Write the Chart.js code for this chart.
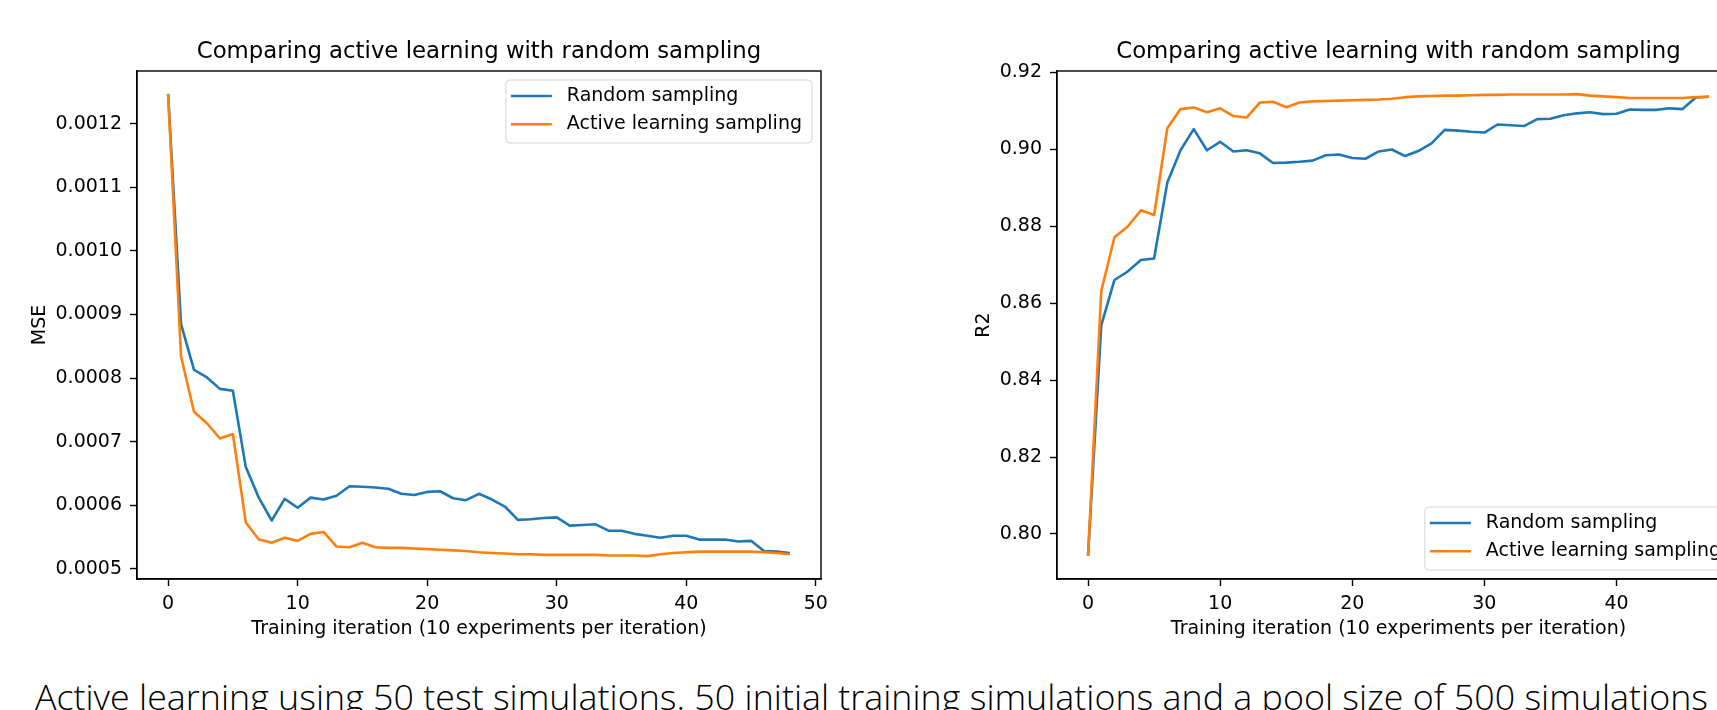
<!DOCTYPE html>
<html>
<head>
<meta charset="utf-8">
<script src="https://cdn.jsdelivr.net/npm/chart.js@4.4.1/dist/chart.umd.min.js"></script>
<style>
  html, body { margin: 0; padding: 0; background: #fff; }
  body { position: relative; width: 1717px; height: 710px; overflow: hidden; }
  canvas { position: absolute; top: 0; }
  #mseChart { left: 0; }
  #r2Chart { left: 920px; }
  #caption {
    position: absolute; left: 35px; top: 679px;
    font-family: "Open Sans", sans-serif; font-weight: 300;
    font-size: 35px; line-height: 35px; white-space: nowrap; color: #000;
    transform-origin: 0 0;
  }
</style>
</head>
<body>
<canvas id="mseChart" width="860" height="660"></canvas>
<canvas id="r2Chart" width="840" height="660"></canvas>
<span id="caption">Active learning using 50 test simulations. 50 initial training simulations and a pool size of 500 simulations</span>
<script>
// iteraciones de entrenamiento (10 experimentos por iteración)
const iterMse = [0, 1, 2, 3, 4, 5, 6, 7, 8, 9, 10, 11, 12, 13, 14, 15, 16, 17, 18, 19, 20, 21, 22, 23, 24,
  25, 26, 27, 28, 29, 30, 31, 32, 33, 34, 35, 36, 37, 38, 39, 40, 41, 42, 43, 44, 45, 46, 47, 48];
const iterR2 = [0, 1, 2, 3, 4, 5, 6, 7, 8, 9, 10, 11, 12, 13, 14, 15, 16, 17, 18, 19, 20, 21, 22, 23,
  24, 25, 26, 27, 28, 29, 30, 31, 32, 33, 34, 35, 36, 37, 38, 39, 40, 41, 42, 43, 44, 45, 46, 47];

const mseRandom = [0.001247, 0.000885, 0.000813, 0.000801, 0.000783, 0.000780, 0.000660, 0.000612, 0.000576, 0.000610,
  0.000596, 0.000612, 0.000609, 0.000615, 0.000630, 0.000629, 0.000628, 0.000626, 0.000618, 0.000616,
  0.000621, 0.000622, 0.000611, 0.000608, 0.000618, 0.000609, 0.000598, 0.000577, 0.000578, 0.000580,
  0.000581, 0.000568, 0.000569, 0.000570, 0.000560, 0.000560, 0.000555, 0.000552, 0.000549, 0.000552,
  0.000552, 0.000546, 0.000546, 0.000546, 0.000543, 0.000544, 0.000528, 0.000527, 0.000525];
const mseActive = [0.001247, 0.000834, 0.000747, 0.000729, 0.000705, 0.000712, 0.000573, 0.000546, 0.000541, 0.000549,
  0.000544, 0.000555, 0.000558, 0.000535, 0.000534, 0.000541, 0.000534, 0.000533, 0.000533, 0.000532,
  0.000531, 0.000530, 0.000529, 0.000528, 0.000526, 0.000525, 0.000524, 0.000523, 0.000523, 0.000522,
  0.000522, 0.000522, 0.000522, 0.000522, 0.000521, 0.000521, 0.000521, 0.000520, 0.000523, 0.000525,
  0.000526, 0.000527, 0.000527, 0.000527, 0.000527, 0.000527, 0.000526, 0.000525, 0.000523];

const r2Random = [0.7943, 0.8542, 0.8660, 0.8682, 0.8712, 0.8716, 0.8913, 0.8997, 0.9052, 0.8997,
  0.9019, 0.8994, 0.8997, 0.8989, 0.8964, 0.8965, 0.8967, 0.8970, 0.8984, 0.8986,
  0.8977, 0.8975, 0.8994, 0.8999, 0.8982, 0.8995, 0.9015, 0.9050, 0.9048, 0.9045,
  0.9043, 0.9064, 0.9062, 0.9060, 0.9078, 0.9079, 0.9088, 0.9093, 0.9096, 0.9091,
  0.9092, 0.9103, 0.9102, 0.9102, 0.9106, 0.9104, 0.9134, 0.9136];
const r2Active = [0.7943, 0.8631, 0.8771, 0.8799, 0.8841, 0.8829, 0.9054, 0.9104, 0.9108, 0.9096,
  0.9106, 0.9086, 0.9082, 0.9121, 0.9123, 0.9109, 0.9121, 0.9124, 0.9125, 0.9126,
  0.9127, 0.9128, 0.9129, 0.9131, 0.9135, 0.9137, 0.9138, 0.9139, 0.9139, 0.9140,
  0.9141, 0.9141, 0.9142, 0.9142, 0.9142, 0.9142, 0.9142, 0.9143, 0.9139, 0.9137,
  0.9135, 0.9133, 0.9133, 0.9133, 0.9133, 0.9133, 0.9135, 0.9136];

const xTicks = [0, 10, 20, 30, 40, 50];
const mseTicks = [0.0005, 0.0006, 0.0007, 0.0008, 0.0009, 0.0010, 0.0011, 0.0012];
const r2Ticks = [0.80, 0.82, 0.84, 0.86, 0.88, 0.90, 0.92];

const seriesNames = ['Random sampling', 'Active learning sampling'];
const titulo = 'Comparing active learning with random sampling';
const ejeX = 'Training iteration (10 experiments per iteration)';

const FONT = 'DejaVu Sans';
const AZUL = '#1f77b4';
const NARANJA = '#ff7f0e';

// marco completo alrededor del área de datos + título centrado sobre ella
const marco = {
  id: 'marco',
  afterDatasetsDraw(chart, args, opts) {
    const { ctx, chartArea: a } = chart;
    ctx.save();
    ctx.strokeStyle = '#000';
    ctx.lineWidth = 1.4;
    ctx.strokeRect(a.left, a.top, a.right - a.left, a.bottom - a.top);
    ctx.fillStyle = '#000';
    ctx.font = '22.8px "' + FONT + '"';
    ctx.textAlign = 'center';
    ctx.textBaseline = 'middle';
    ctx.fillText(opts.text, (a.left + a.right) / 2, a.top - 19.4);
    ctx.restore();
  }
};

// leyenda con recuadro dentro del área de datos
const leyenda = {
  id: 'leyenda',
  afterDraw(chart, args, opts) {
    const { ctx, chartArea: a } = chart;
    const items = chart.data.datasets;
    ctx.save();
    ctx.font = '19px "' + FONT + '"';
    const textW = Math.max(...items.map(d => ctx.measureText(d.label).width));
    const w = 5 + 41 + 15 + textW + 10;
    const h = 63;
    const left = a.right - opts.inset - w;
    const top = opts.corner === 'upper' ? a.top + opts.inset : a.bottom - opts.inset - h;
    ctx.beginPath();
    ctx.roundRect(left, top, w, h, 4);
    ctx.fillStyle = 'rgba(255,255,255,0.85)';
    ctx.fill();
    ctx.strokeStyle = '#d4d4d4';
    ctx.lineWidth = 1;
    ctx.stroke();
    items.forEach((d, k) => {
      const y = top + 16 + k * 28.3;
      ctx.strokeStyle = d.borderColor;
      ctx.lineWidth = 2.6;
      ctx.beginPath();
      ctx.moveTo(left + 5, y);
      ctx.lineTo(left + 46, y);
      ctx.stroke();
      ctx.fillStyle = '#000';
      ctx.textBaseline = 'middle';
      ctx.fillText(d.label, left + 61, y);
    });
    ctx.restore();
  }
};

function puntos(xs, ys) {
  return xs.map((x, i) => ({ x: x, y: ys[i] }));
}

function linea(label, color, data, orden) {
  return {
    label: label, data: data, borderColor: color, backgroundColor: color,
    borderWidth: 2.6, pointRadius: 0, tension: 0, fill: false, order: orden,
    borderJoinStyle: 'round', borderCapStyle: 'butt'
  };
}

function crearGrafica(id, cfg) {
  const ctx = document.getElementById(id).getContext('2d');
  return new Chart(ctx, {
    type: 'line',
    data: {
      datasets: [
        linea(seriesNames[0], AZUL, puntos(cfg.iter, cfg.random), 2),
        linea(seriesNames[1], NARANJA, puntos(cfg.iter, cfg.active), 1)
      ]
    },
    options: {
      responsive: false,
      animation: false,
      events: [],
      layout: { padding: { left: 0, top: 71, right: cfg.padRight, bottom: 0 } },
      plugins: {
        legend: { display: false },
        tooltip: { enabled: false },
        title: { display: false },
        marco: { text: titulo },
        leyenda: { corner: cfg.corner, inset: 9 }
      },
      scales: {
        x: {
          type: 'linear', min: cfg.xMin, max: cfg.xMax,
          afterBuildTicks: s => { s.ticks = xTicks.filter(v => v >= s.min && v <= s.max).map(v => ({ value: v })); },
          afterFit: s => { s.height = 81; },
          ticks: { color: '#000', font: { family: FONT, size: 19 }, padding: 7, maxRotation: 0, autoSkip: false },
          grid: { drawOnChartArea: false, tickLength: 7, tickWidth: 1.4, tickColor: '#000' },
          border: { color: '#000', width: 1.4 },
          title: {
            display: true, text: ejeX, color: '#000',
            font: { family: FONT, size: 19 }, padding: { top: 0, bottom: 20 }
          }
        },
        y: {
          type: 'linear', min: cfg.yMin, max: cfg.yMax,
          afterBuildTicks: s => { s.ticks = cfg.yTicks.map(v => ({ value: v })); },
          afterFit: s => { s.width = 137; },
          ticks: {
            color: '#000', font: { family: FONT, size: 19 }, padding: 8, autoSkip: false,
            callback: v => v.toFixed(cfg.dec)
          },
          grid: { drawOnChartArea: false, tickLength: 7, tickWidth: 1.4, tickColor: '#000' },
          border: { color: '#000', width: 1.4 },
          title: {
            display: true, text: cfg.yLabel, color: '#000',
            font: { family: FONT, size: 19 }, padding: { top: cfg.yTitlePad, bottom: 0 }
          }
        }
      }
    },
    plugins: [marco, leyenda]
  });
}

crearGrafica('mseChart', {
  iter: iterMse, random: mseRandom, active: mseActive,
  xMin: -2.4, xMax: 50.4, yMin: 0.000484, yMax: 0.001283,
  yTicks: mseTicks, dec: 4, yLabel: 'MSE', yTitlePad: 29,
  padRight: 39, corner: 'upper'
});

crearGrafica('r2Chart', {
  iter: iterR2, random: r2Random, active: r2Active,
  xMin: -2.35, xMax: 49.35, yMin: 0.7883, yMax: 0.9203,
  yTicks: r2Ticks, dec: 2, yLabel: 'R2', yTitlePad: 53,
  padRight: 20, corner: 'lower'
});

// el pie de figura ocupa el ancho de la página
const cap = document.getElementById('caption');
cap.style.display = 'inline-block';
const anchoCap = cap.getBoundingClientRect().width;
cap.style.transform = 'scaleX(' + (1673 / anchoCap) + ')';
</script>
</body>
</html>
